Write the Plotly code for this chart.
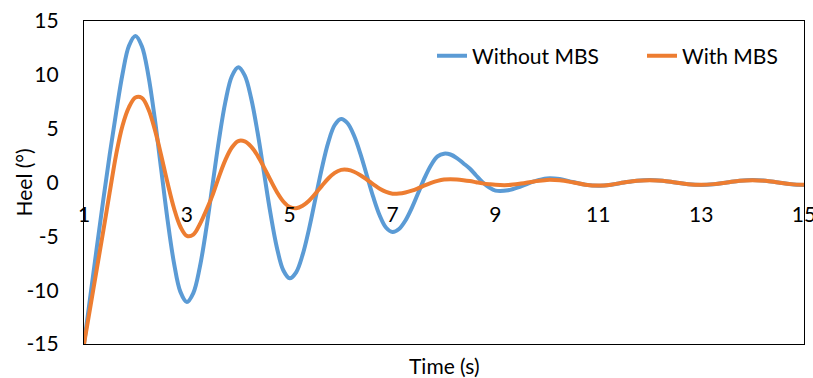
import plotly.graph_objects as go

time_s = [1.0, 1.125, 1.25, 1.375, 1.5, 1.625, 1.75, 1.875,
          2.0, 2.125, 2.25, 2.375, 2.5, 2.625, 2.75, 2.875,
          3.0, 3.125, 3.25, 3.375, 3.5, 3.625, 3.75, 3.875,
          4.0, 4.125, 4.25, 4.375, 4.5, 4.625, 4.75, 4.875,
          5.0, 5.125, 5.25, 5.375, 5.5, 5.625, 5.75, 5.875,
          6.0, 6.125, 6.25, 6.375, 6.5, 6.625, 6.75, 6.875,
          7.0, 7.125, 7.25, 7.375, 7.5, 7.625, 7.75, 7.875,
          8.0, 8.125, 8.25, 8.375, 8.5, 8.625, 8.75, 8.875,
          9.0, 9.25, 9.5, 9.75, 10.0, 10.25, 10.5, 10.75,
          11.0, 11.25, 11.5, 11.75, 12.0, 12.25, 12.5, 12.75,
          13.0, 13.25, 13.5, 13.75, 14.0, 14.25, 14.5, 14.75, 15.0]

heel_without_mbs = [-15, -10.5, -6, -1.6, 2.6, 6.5, 10.1, 12.7,
                    13.6, 12.66, 9.98, 5.98, 1.25, -3.48, -7.48, -10.16,
                    -11.1, -10.27, -7.91, -4.37, -0.2, 3.97, 7.51, 9.87,
                    10.7, 9.95, 7.83, 4.65, 0.9, -2.85, -6.03, -8.15,
                    -8.9, -8.34, -6.73, -4.33, -1.5, 1.33, 3.73, 5.34,
                    5.9, 5.5, 4.36, 2.66, 0.65, -1.36, -3.06, -4.2,
                    -4.6, -4.32, -3.53, -2.35, -0.95, 0.45, 1.63, 2.42,
                    2.68, 2.6, 2.27, 1.79, 1.3, 0.65, 0.02, -0.45,
                    -0.75, -0.72, -0.35, 0.1, 0.38, 0.32, 0.05, -0.2,
                    -0.3, -0.2, 0.0, 0.17, 0.24, 0.17, 0.0, -0.16,
                    -0.23, -0.16, 0.0, 0.17, 0.23, 0.17, 0.0, -0.16, -0.23]

heel_with_mbs = [-15, -11.5, -8, -4.5, -0.9, 2.6, 5.3, 7.0,
                 7.9, 7.86, 6.83, 4.96, 2.54, -0.05, -2.39, -4.11,
                 -4.95, -4.84, -3.9, -2.6, -1.17, 0.55, 2.1, 3.25,
                 3.85, 3.82, 3.34, 2.5, 1.41, 0.23, -0.88, -1.76,
                 -2.28, -2.39, -2.16, -1.69, -1.03, -0.31, 0.37, 0.89,
                 1.17, 1.18, 1.0, 0.68, 0.27, -0.17, -0.58, -0.88,
                 -1.04, -1.03, -0.93, -0.76, -0.53, -0.27, -0.04, 0.15,
                 0.27, 0.3, 0.27, 0.21, 0.13, 0.025, -0.08, -0.16,
                 -0.22, -0.24, -0.1, 0.1, 0.24, 0.2, 0.02, -0.2,
                 -0.28, -0.2, 0.0, 0.17, 0.22, 0.17, 0.0, -0.16,
                 -0.22, -0.15, 0.0, 0.16, 0.22, 0.16, 0.0, -0.15, -0.22]

series_names = ["Without MBS", "With MBS"]
series_colors = ["#5B9BD5", "#ED7D31"]
x_ticks = [1, 3, 5, 7, 9, 11, 13, 15]
y_ticks = [-15, -10, -5, 0, 5, 10, 15]

FONT = "Lato"
FS = 21
W, H = 813, 378
ML, MR, MT, MB = 84, 9, 21, 34
PW = W - ML - MR
PH = H - MT - MB

fig = go.Figure()
for name, vals, col in zip(series_names, [heel_without_mbs, heel_with_mbs], series_colors):
    fig.add_trace(go.Scatter(x=time_s, y=vals, mode="lines", name=name,
                             line=dict(color=col, width=4, shape="spline", smoothing=1.0),
                             xaxis="x", yaxis="y"))
# invisible helper trace so the mid-axis tick labels are rendered
fig.add_trace(go.Scatter(x=time_s, y=heel_with_mbs, mode="lines", showlegend=False,
                         line=dict(width=0), hoverinfo="skip", xaxis="x2", yaxis="y"))

fig.update_layout(
    width=W, height=H,
    margin=dict(l=ML, r=MR, t=MT, b=MB, autoexpand=False),
    paper_bgcolor="white", plot_bgcolor="white",
    font=dict(family=FONT, size=FS, color="#000000"),
    xaxis=dict(range=[1, 15], showticklabels=False, showgrid=False, zeroline=False,
               showline=True, linecolor="#000000", linewidth=1.3, mirror=True, ticks="",
               automargin=False),
    xaxis2=dict(range=[1, 15], overlaying="x", anchor="free", position=0.5,
                tickmode="array", tickvals=x_ticks, ticktext=[str(v) for v in x_ticks],
                showgrid=False, zeroline=False, showline=False, ticks="",
                ticklabeloverflow="allow", automargin=False,
                ticklabelstandoff=17, tickfont=dict(family=FONT, size=FS)),
    yaxis=dict(range=[-15, 15], tickmode="array", tickvals=y_ticks,
               ticktext=[str(v) for v in y_ticks], showgrid=False, zeroline=False,
               showline=True, linecolor="#000000", linewidth=1.3, mirror=True, ticks="",
               ticklabelstandoff=20, ticklabeloverflow="allow", automargin=False,
               tickfont=dict(family=FONT, size=FS)),
    legend=dict(orientation="h", x=(432 - ML) / PW, xanchor="left",
                y=(MT + PH - 56) / PH, yanchor="middle", entrywidth=165,
                bgcolor="rgba(0,0,0,0)", font=dict(family=FONT, size=FS)),
    showlegend=True,
    annotations=[
        dict(text="Heel (°)", textangle=-90, xref="paper", yref="paper",
             x=-(ML - 23) / PW, y=0.5, xanchor="center", yanchor="middle",
             showarrow=False, font=dict(family=FONT, size=FS)),
        dict(text="Time (s)", xref="paper", yref="paper",
             x=0.5, y=-(365 - (MT + PH)) / PH, xanchor="center", yanchor="middle",
             showarrow=False, font=dict(family=FONT, size=FS)),
    ],
)

fig.write_html("out.html")
